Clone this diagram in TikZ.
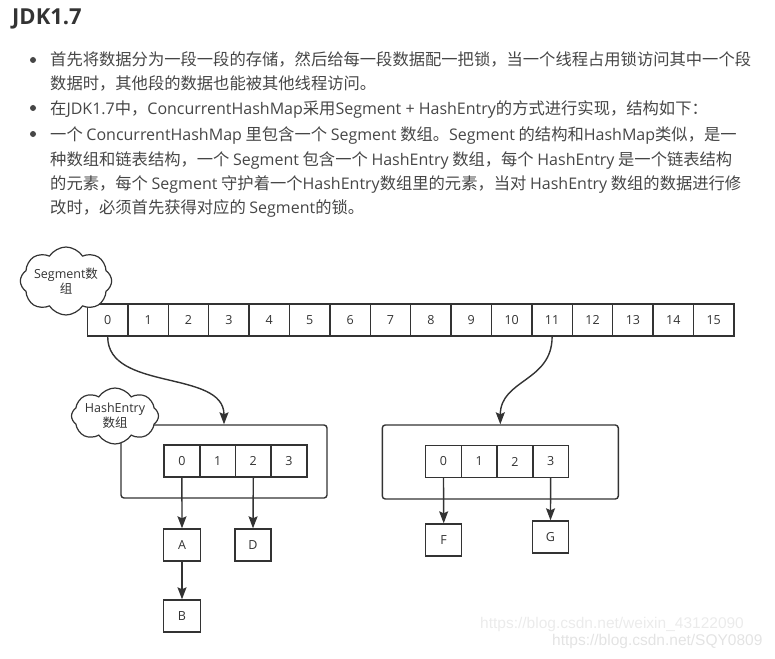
\documentclass[tikz,border=0pt]{standalone}
\usepackage{fontspec}
\setmainfont{Noto Sans CJK SC}
\newfontfamily\enfont{Open Sans}
\newfontfamily\wmfont{Liberation Sans}
\usetikzlibrary{shapes.symbols,arrows.meta}
\newcommand{\en}[1]{{\enfont #1}}
\newcommand{\enb}[1]{{\enfont\fontsize{16}{20}\selectfont #1}}
\definecolor{txtgray}{RGB}{70,70,70}
\definecolor{headgray}{RGB}{51,51,51}
\definecolor{linegray}{RGB}{51,51,51}
\begin{document}
\begin{tikzpicture}[x=1pt,y=-1pt,
        txt/.style={anchor=base west, inner sep=0pt, text=txtgray, font=\fontsize{16.3}{20}\selectfont},
        bulletn/.style={circle, fill=txtgray, inner sep=0pt, minimum size=6pt},
        celln/.style={draw=linegray, line width=1.4pt, minimum height=32pt, inner sep=0pt, text=linegray, font=\enfont\fontsize{12.5}{14}\selectfont},
        itemn/.style={celln, minimum width=36pt},
        groupn/.style={draw=linegray, line width=1.4pt, rounded corners=3pt, inner sep=0pt},
        cloudn/.style={draw=linegray, line width=1.2pt, fill=white, cloud, cloud puffs=8, cloud puff arc=115, cloud ignores aspect, align=center, inner sep=0pt, text=linegray, font=\fontsize{12.5}{15}\selectfont},
        arr/.style={draw=linegray, line width=1.4pt, -{Stealth[length=12pt,width=9pt,inset=2pt]}},
        wm/.style={anchor=base west, inner sep=0pt, font=\wmfont\fontsize{15.5}{18}\selectfont},
    ]
    \useasboundingbox (0,0) rectangle (775,658);
    % heading and bullet text
    \node[anchor=base west, inner sep=0pt, text=headgray, font=\enfont\bfseries\fontsize{22}{26}\selectfont] (title) at (12,24.5) {JDK1.7};
    \node[bulletn] (b1) at (33,60) {};
    \node[bulletn] (b2) at (33,108) {};
    \node[bulletn] (b3) at (33,134) {};
    \node[txt] (l1) at (50,66) {首先将数据分为一段一段的存储，然后给每一段数据配一把锁，当一个线程占用锁访问其中一个段};
    \node[txt] (l2) at (50,90) {数据时，其他段的数据也能被其他线程访问。};
    \node[txt] (l3) at (50,114) {在\enb{JDK1.7}中，\enb{ConcurrentHashMap}采用\enb{Segment + HashEntry}的方式进行实现，结构如下：};
    \node[txt] (l4) at (50,140) {一个 \enb{ConcurrentHashMap} 里包含一个 \enb{Segment} 数组。\enb{Segment} 的结构和\enb{HashMap}类似，是一};
    \node[txt] (l5) at (50,165) {种数组和链表结构，一个 \enb{Segment} 包含一个 \enb{HashEntry} 数组，每个 \enb{HashEntry} 是一个链表结构};
    \node[txt] (l6) at (50,189) {的元素，每个 \enb{Segment} 守护着一个\enb{HashEntry}数组里的元素，当对 \enb{HashEntry} 数组的数据进行修};
    \node[txt] (l7) at (50,213) {改时，必须首先获得对应的 \enb{Segment}的锁。};
    % segment array
    \foreach \i in {0,...,15}
        \node[celln, minimum width=40.4pt] (s\i) at ({107.7+40.4*\i},320) {\i};
    \node[cloudn, minimum width=88pt, minimum height=68pt] (segcloud) at (66,281) {\en{Segment}数\\组};
    % left segment
    \node[groupn, minimum width=206pt, minimum height=73pt] (lbox) at (224,461.5) {};
    \foreach \i in {0,...,3}
        \node[itemn] (e\i) at ({181.9+35.7*\i},461) {\i};
    \node[cloudn, minimum width=87pt, minimum height=56pt] (hecloud) at (115,416) {\en{HashEntry}\\数组};
    % right segment
    \node[groupn, minimum width=236pt, minimum height=74pt] (rbox) at (500.3,462) {};
    \foreach \i in {0,...,3}
        \node[itemn] (f\i) at ({443.5+35.7*\i},461.5) {\i};
    % entries
    \node[itemn, minimum width=37pt] (nA) at (182,545) {A};
    \node[itemn, minimum width=36pt] (nD) at (253,545) {D};
    \node[itemn, minimum width=37pt] (nB) at (182,616) {B};
    \node[itemn, minimum width=36pt] (nF) at (443.7,540) {F};
    \node[itemn, minimum width=36pt] (nG) at (550.5,537) {G};
    \draw[arr] (s0.south) .. controls +(0,55) and +(0,-55) .. (lbox.north);
    \draw[arr] (s11.south) .. controls +(0,45) and +(0,-45) .. (rbox.north);
    \draw[arr] (e0.south) -- (nA.north);
    \draw[arr] (e2.south) -- (nD.north);
    \draw[arr] (nA.south) -- (nB.north);
    \draw[arr] (f0.south) -- (nF.north);
    \draw[arr] (f3.south) -- (nG.north);
    % watermark
    \node[wm, text=black!8] (wm1) at (480,628) {https://blog.csdn.net/weixin\_43122090};
    \node[wm, text=black!11] (wm2) at (552,645) {https://blog.csdn.net/SQY0809};
\end{tikzpicture}
\end{document}
